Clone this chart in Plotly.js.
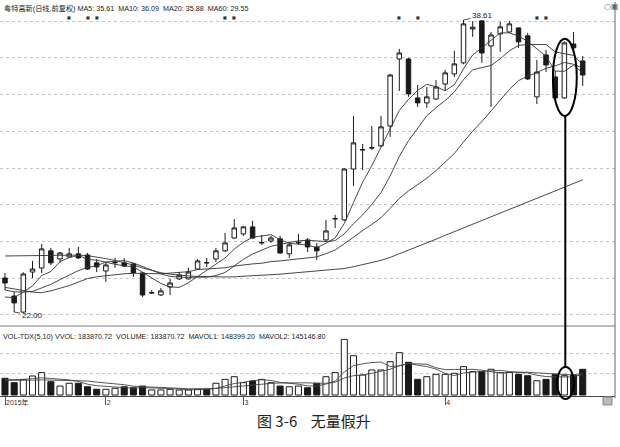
<!DOCTYPE html>
<html><head><meta charset="utf-8">
<script src="https://cdn.plot.ly/plotly-3.0.1.min.js"></script>
<style>html,body{margin:0;padding:0;background:#fff}#chart{width:620px;height:447px}</style>
</head><body><div id="chart"></div>
<script>
// trading days (categories)
const dates = [
 '2015-01-16','2015-01-19','2015-01-20','2015-01-21','2015-01-22','2015-01-23','2015-01-26','2015-01-27','2015-01-28','2015-01-29','2015-01-30',
 '2015-02-02','2015-02-03','2015-02-04','2015-02-05','2015-02-06','2015-02-09','2015-02-10','2015-02-11','2015-02-12','2015-02-13','2015-02-16','2015-02-17','2015-02-25','2015-02-26','2015-02-27',
 '2015-03-02','2015-03-03','2015-03-04','2015-03-05','2015-03-06','2015-03-09','2015-03-10','2015-03-11','2015-03-12','2015-03-13','2015-03-16','2015-03-17','2015-03-18','2015-03-19','2015-03-20','2015-03-23','2015-03-24','2015-03-25','2015-03-26','2015-03-27','2015-03-30','2015-03-31',
 '2015-04-01','2015-04-02','2015-04-03','2015-04-07','2015-04-08','2015-04-09','2015-04-10','2015-04-13','2015-04-14','2015-04-15','2015-04-16','2015-04-17','2015-04-20','2015-04-21','2015-04-22','2015-04-23'];

const open = [23.98,22.96,22.05,24.32,24.55,25.52,25.06,25.18,25.35,25.29,24.84,24.38,24.84,24.84,24.78,24.27,23.13,23.02,23.47,23.93,23.93,24.49,24.86,25.06,25.52,26.25,26.48,26.88,25.97,26.08,26.20,25.35,25.97,26.14,25.74,26.14,27.33,27.27,30.16,31.24,31.35,31.47,32.60,36.40,36.40,34.19,33.91,34.13,34.98,35.55,36.18,38.10,38.56,37.14,37.82,37.93,38.16,37.71,34.25,36.63,35.38,34.19,37.25,36.29];
const high = [24.27,23.19,24.30,24.95,25.91,25.69,25.46,25.69,25.74,25.40,25.06,24.84,25.12,25.12,24.84,24.32,23.30,23.42,23.93,24.32,24.55,25.06,25.12,25.69,26.54,27.33,26.94,27.22,26.42,26.37,26.37,25.97,26.48,26.25,25.97,27.27,27.56,30.20,33.17,31.58,32.60,33.17,35.55,36.97,36.46,34.93,34.81,35.21,35.78,36.86,38.61,38.55,38.58,37.93,38.50,38.56,38.20,37.88,36.35,36.91,35.72,37.40,37.93,36.57];
const low = [23.30,22.05,22.00,23.98,24.27,24.72,24.84,25.12,25.06,24.44,24.32,23.76,24.55,24.61,24.04,22.91,23.08,22.96,23.02,23.87,23.90,24.44,24.61,24.89,25.46,26.20,26.37,26.20,25.86,25.97,25.35,25.12,25.86,25.46,25.01,26.08,26.82,27.22,29.20,30.11,31.24,31.41,31.98,34.59,34.25,33.68,33.62,34.08,34.59,35.38,36.10,37.65,36.18,33.68,36.80,37.88,37.03,35.21,33.85,35.66,34.13,34.13,36.90,34.87];
const close = [23.70,22.57,24.21,24.49,25.63,24.84,25.40,25.35,25.12,24.49,24.61,24.72,24.86,24.66,24.27,23.02,23.15,23.25,23.70,24.15,24.32,24.95,24.84,25.52,25.97,26.82,26.88,26.25,25.99,26.25,25.40,25.86,26.00,25.74,25.52,26.65,27.35,30.16,31.64,31.26,31.37,32.55,35.49,36.74,34.42,33.91,34.25,34.81,35.61,36.12,38.39,38.20,36.74,37.76,38.22,38.39,37.37,35.27,35.66,36.06,34.19,37.31,37.03,35.49];

const ma5 = [22.90,22.87,23.18,23.53,24.12,24.35,24.91,25.14,25.27,25.04,24.99,24.86,24.76,24.67,24.62,24.31,23.99,23.67,23.48,23.45,23.71,24.07,24.39,24.76,25.12,25.62,26.01,26.29,26.38,26.44,26.15,25.95,25.90,25.85,25.70,25.95,26.25,27.08,28.26,29.41,30.35,31.39,32.46,33.48,34.11,34.62,34.96,34.83,34.60,34.94,35.84,36.63,37.03,37.46,37.88,37.88,37.70,37.40,36.98,36.55,35.71,35.70,36.05,35.61];
const ma10 = [23.30,23.20,23.18,23.22,23.42,23.62,23.89,24.16,24.40,24.58,24.67,24.89,24.95,24.97,24.83,24.65,24.43,24.22,24.07,24.04,24.01,24.03,24.03,24.12,24.29,24.67,25.04,25.34,25.57,25.78,25.89,25.98,26.09,26.12,26.07,26.05,26.10,26.49,27.06,27.56,28.15,28.82,29.77,30.87,31.76,32.49,33.18,33.64,34.04,34.53,35.23,35.79,35.93,36.03,36.41,36.86,37.17,37.22,37.22,37.22,36.80,36.70,36.60,36.09];
const ma20 = [23.45,23.35,23.25,23.18,23.15,23.25,23.40,23.55,23.75,23.95,24.05,24.12,24.18,24.22,24.25,24.24,24.22,24.22,24.26,24.31,24.34,24.46,24.49,24.54,24.56,24.66,24.73,24.78,24.82,24.91,24.95,25.01,25.06,25.12,25.18,25.36,25.57,25.92,26.31,26.67,27.02,27.40,27.93,28.49,28.92,29.27,29.64,30.07,30.55,31.04,31.69,32.31,32.85,33.45,34.09,34.67,35.17,35.43,35.63,35.87,36.01,36.20,36.10,35.88];
const ma60 = [25.23,25.24,25.25,25.26,25.27,25.28,25.29,25.29,25.28,25.25,25.18,25.08,24.97,24.85,24.72,24.55,24.40,24.28,24.20,24.14,24.10,24.07,24.05,24.04,24.04,24.05,24.07,24.10,24.13,24.17,24.20,24.24,24.28,24.32,24.36,24.40,24.45,24.52,24.62,24.73,24.85,24.98,25.15,25.35,25.57,25.76,25.98,26.18,26.40,26.61,26.84,27.04,27.24,27.46,27.67,27.88,28.08,28.28,28.49,28.70,28.90,29.13,29.34,29.55];

const volume = [119500,88000,112000,136000,160000,95000,64000,84000,84000,59000,41000,41000,48000,59000,52000,64000,36000,36000,41000,36000,36000,41000,41000,84000,112000,131000,88000,100000,112000,88000,64000,59000,64000,52000,84000,131000,160000,398000,281000,143000,179000,179000,238000,303000,234000,112000,131000,148000,148000,155000,203000,167000,167000,184000,160000,160000,148000,138000,102000,112000,148000,138000,143000,183870.72];
const mavol1 = [110000,108000,110000,118000,123100,118200,113400,107800,97400,77200,66400,61800,54600,49600,48200,52800,51800,49400,45800,42600,37000,38000,39000,47600,62800,81800,91200,103000,108600,103800,90400,84600,77400,65400,64600,78000,98200,165000,210800,222600,232200,236000,204000,208400,226600,213200,203600,185600,154600,138800,157000,164200,168000,175200,176200,167600,163800,158000,141600,132000,129600,127600,128600,148399.2];
const mavol2 = [105000,104000,104000,106000,108000,107000,105000,104000,102000,100200,92300,87600,81200,73500,62700,59600,56800,52000,47700,45400,44900,44900,44200,46700,52700,59400,64600,71000,78100,83300,86100,87900,90200,87000,84200,84200,91400,121200,138100,143600,155100,167100,184500,209600,224600,222700,219800,194800,181500,182700,185100,183900,176800,164900,157500,162300,164000,163000,158400,154100,148600,145700,143300,145146.8];

const monthTicks = ['2015-01-16','2015-02-02','2015-03-02','2015-04-01'];
const monthLabels = ['2015年','2','3','4'];
const mineDays = [7,9,10,24,25,43,45,58,59];
const hiDay = 61;

// ---- layout helpers (pixel -> paper) ----
const W = 620, H = 447, mL = 0, mR = 5, mT = 2, mB = 51;
const plotH = H - mT - mB, plotW = W - mL - mR;
const py = y => (H - mB - y) / plotH;
const px = x => (x - mL) / plotW;

const ink = '#1a1a1a';
const fontSans = 'Liberation Sans, Arial, Noto Sans CJK SC, sans-serif';
const volColors = close.map((c, i) => c >= open[i] ? '#ffffff' : ink);

const traces = [
  {type:'bar', x:dates, y:volume, xaxis:'x', yaxis:'y2', width:0.66,
   marker:{color:volColors, line:{color:ink, width:1}}, hoverinfo:'skip'},
  {type:'scatter', mode:'lines', x:dates, y:mavol1, xaxis:'x', yaxis:'y2', line:{color:'#444', width:0.9}, hoverinfo:'skip'},
  {type:'scatter', mode:'lines', x:dates, y:mavol2, xaxis:'x', yaxis:'y2', line:{color:'#444', width:0.9}, hoverinfo:'skip'},
  {type:'scatter', mode:'lines', x:dates, y:ma60, xaxis:'x', yaxis:'y', line:{color:'#333', width:0.9}, hoverinfo:'skip'},
  {type:'scatter', mode:'lines', x:dates, y:ma20, xaxis:'x', yaxis:'y', line:{color:'#333', width:0.9}, hoverinfo:'skip'},
  {type:'scatter', mode:'lines', x:dates, y:ma10, xaxis:'x', yaxis:'y', line:{color:'#333', width:0.9}, hoverinfo:'skip'},
  {type:'scatter', mode:'lines', x:dates, y:ma5, xaxis:'x', yaxis:'y', line:{color:'#333', width:0.9}, hoverinfo:'skip'},
  {type:'candlestick', x:dates, open:open, high:high, low:low, close:close, xaxis:'x', yaxis:'y',
   whiskerwidth:0,
   increasing:{line:{color:ink, width:1}, fillcolor:'#ffffff'},
   decreasing:{line:{color:ink, width:1}, fillcolor:ink}, hoverinfo:'skip'}
];

const annotations = [
  {xref:'paper', yref:'paper', x:px(2), y:py(8), xanchor:'left', yanchor:'middle', showarrow:false,
   text:'粤特高新(日线,前复权) MA5: 35.61&nbsp; MA10: 36.09&nbsp; MA20: 35.88&nbsp; MA60: 29.55',
   font:{size:7.2, color:'#222', family:fontSans}},
  {xref:'paper', yref:'paper', x:px(1), y:py(336), xanchor:'left', yanchor:'middle', showarrow:false,
   text:'VOL-TDX(5,10) VVOL: 183870.72&nbsp; VOLUME: 183870.72&nbsp; MAVOL1: 148399.20&nbsp; MAVOL2: 145146.80',
   font:{size:7.2, color:'#222', family:fontSans}},
  {xref:'x', yref:'y', x:1, y:low[1], text:'22.00', showarrow:true, arrowhead:0, arrowwidth:0.8, arrowcolor:'#222',
   ax:18, ay:3, standoff:0, font:{size:8, color:'#222', family:fontSans}},
  {xref:'x', yref:'y', x:50, y:high[50], text:'38.61', showarrow:true, arrowhead:0, arrowwidth:0.8, arrowcolor:'#222',
   ax:19, ay:-4, standoff:0, font:{size:8, color:'#222', family:fontSans}},
  {xref:'paper', yref:'paper', x:px(602), y:py(6), xanchor:'left', yanchor:'middle', showarrow:false,
   text:'○▣', font:{size:8, color:'#666', family:'DejaVu Sans'}},
  {xref:'paper', yref:'paper', x:px(314), y:py(420), xanchor:'center', yanchor:'middle', showarrow:false,
   text:'图 3-6&nbsp;&nbsp;&nbsp; 无量假升', font:{size:15, color:'#222', family:'Noto Sans CJK SC'}}
];
mineDays.forEach(d => annotations.push({xref:'x', yref:'paper', x:d, y:py(13), showarrow:false,
   text:'■', font:{size:4, color:'#333', family:'DejaVu Sans'}}));

const shapes = [
  {type:'line', xref:'paper', yref:'paper', x0:0, x1:1, y0:py(326), y1:py(326), line:{color:'#777', width:1}},
  {type:'line', xref:'paper', yref:'paper', x0:1, x1:1, y0:py(398), y1:py(2), line:{color:'#666', width:1}},
  {type:'circle', xref:'x', yref:'y', x0:hiDay-1.25, x1:hiDay+1.35, y0:33.17, y1:37.54, line:{color:'#000', width:2}},
  {type:'line', xref:'x', yref:'paper', x0:hiDay+0.1, x1:hiDay+0.1, y0:py(367), y1:py(116), line:{color:'#000', width:2}},
  {type:'circle', xref:'x', yref:'paper', x0:hiDay-0.8, x1:hiDay+1.05, y0:py(399), y1:py(367), line:{color:'#000', width:2}},
  {type:'rect', xref:'paper', yref:'paper', x0:px(603), x1:px(612), y0:py(405), y1:py(397), fillcolor:'#bbb', line:{color:'#888', width:1}}
];

const layout = {
  width:W, height:H, margin:{l:mL, r:mR, t:mT, b:mB, pad:0},
  paper_bgcolor:'#fff', plot_bgcolor:'#fff', showlegend:false,
  xaxis:{type:'category', range:[-0.545, 66.52], anchor:'y2', rangeslider:{visible:false},
    tickmode:'array', tickvals:monthTicks, ticktext:monthLabels, ticks:'outside', ticklen:8, tickcolor:'#555', tickwidth:1,
    ticklabelposition:'outside right', tickfont:{size:7, color:'#333', family:fontSans},
    showgrid:false, showline:true, linecolor:'#444', linewidth:1, zeroline:false},
  yaxis:{domain:[py(326), 1], range:[21.26, 39.63], anchor:'x', tickmode:'linear', tick0:21.89, dtick:2.081,
    showticklabels:false, ticks:'', showgrid:true, gridcolor:'#c4c4c4', griddash:'dot', gridwidth:1, zeroline:false},
  yaxis2:{domain:[0, py(327)], range:[-7155, 486500], anchor:'x', tickmode:'array', tickvals:[157400, 300500],
    showticklabels:false, ticks:'', showgrid:true, gridcolor:'#c4c4c4', griddash:'dot', gridwidth:1, zeroline:false},
  annotations:annotations, shapes:shapes
};

Plotly.newPlot('chart', traces, layout, {staticPlot:true, displayModeBar:false});
</script></body></html>
